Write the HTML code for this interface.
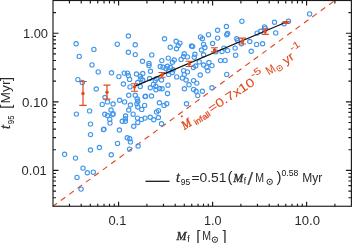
<!DOCTYPE html>
<html><head><meta charset="utf-8"><title>t95 vs Mf</title><style>html,body{margin:0;padding:0;background:#fff}svg{display:block;will-change:transform}</style></head><body>
<svg width="352" height="243" viewBox="0 0 352 243" font-family="Liberation Sans, sans-serif" font-size="12" fill="#2a2a2a" color="#2a2a2a">
<rect width="352" height="243" fill="#fff"/>
<defs><clipPath id="c"><rect x="53.0" y="0.5" width="298.4" height="205.75"/></clipPath></defs>
<g clip-path="url(#c)"><line x1="52.90" y1="206.27" x2="351.45" y2="-11.61" stroke="#e2491d" stroke-width="1.15" stroke-dasharray="5.6 4.78" stroke-dashoffset="0.6"/></g>
<g fill="none" stroke="#4096ea" stroke-width="1.12">
<circle cx="76.1" cy="43.75" r="2.15"/>
<circle cx="93.9" cy="49.4" r="2.15"/>
<circle cx="79.25" cy="56.4" r="2.15"/>
<circle cx="92.0" cy="64.9" r="2.15"/>
<circle cx="77.9" cy="79.6" r="2.15"/>
<circle cx="82.3" cy="82.5" r="2.15"/>
<circle cx="89.6" cy="110.9" r="2.15"/>
<circle cx="76.4" cy="114.1" r="2.15"/>
<circle cx="90.5" cy="124.1" r="2.15"/>
<circle cx="90.5" cy="134.6" r="2.15"/>
<circle cx="90.5" cy="150" r="2.15"/>
<circle cx="64.6" cy="154.3" r="2.15"/>
<circle cx="75.5" cy="158.1" r="2.15"/>
<circle cx="83" cy="168.1" r="2.15"/>
<circle cx="87.3" cy="172.75" r="2.15"/>
<circle cx="93.3" cy="172.2" r="2.15"/>
<circle cx="77" cy="177.4" r="2.15"/>
<circle cx="81.1" cy="189.1" r="2.15"/>
<circle cx="117.3" cy="44.2" r="2.15"/>
<circle cx="98.2" cy="71.9" r="2.15"/>
<circle cx="111.5" cy="72.8" r="2.15"/>
<circle cx="118.9" cy="76.6" r="2.15"/>
<circle cx="96.25" cy="89" r="2.15"/>
<circle cx="105" cy="97.5" r="2.15"/>
<circle cx="107.5" cy="101.9" r="2.15"/>
<circle cx="102.25" cy="104.4" r="2.15"/>
<circle cx="113.1" cy="104" r="2.15"/>
<circle cx="119.6" cy="100.25" r="2.15"/>
<circle cx="124.6" cy="101.9" r="2.15"/>
<circle cx="111" cy="110" r="2.15"/>
<circle cx="113.1" cy="113.8" r="2.15"/>
<circle cx="104.75" cy="114.3" r="2.15"/>
<circle cx="107.5" cy="115.5" r="2.15"/>
<circle cx="130" cy="86.9" r="2.15"/>
<circle cx="128.75" cy="95.25" r="2.15"/>
<circle cx="135.25" cy="95.25" r="2.15"/>
<circle cx="137.8" cy="101.25" r="2.15"/>
<circle cx="136.9" cy="103.75" r="2.15"/>
<circle cx="130.4" cy="105" r="2.15"/>
<circle cx="128.75" cy="110" r="2.15"/>
<circle cx="133.1" cy="114.2" r="2.15"/>
<circle cx="137.8" cy="107" r="2.15"/>
<circle cx="123.4" cy="84" r="2.15"/>
<circle cx="125.6" cy="116" r="2.15"/>
<circle cx="109.75" cy="119.4" r="2.15"/>
<circle cx="110" cy="123.1" r="2.15"/>
<circle cx="103.5" cy="129.6" r="2.15"/>
<circle cx="103.9" cy="129.3" r="2.15"/>
<circle cx="119.4" cy="130" r="2.15"/>
<circle cx="122.25" cy="121.25" r="2.15"/>
<circle cx="125.4" cy="118.75" r="2.15"/>
<circle cx="125.4" cy="121.25" r="2.15"/>
<circle cx="137.5" cy="118.1" r="2.15"/>
<circle cx="137.8" cy="122.5" r="2.15"/>
<circle cx="133.75" cy="126.25" r="2.15"/>
<circle cx="127.25" cy="137.75" r="2.15"/>
<circle cx="129.75" cy="138.75" r="2.15"/>
<circle cx="130.4" cy="141.9" r="2.15"/>
<circle cx="117.5" cy="143.4" r="2.15"/>
<circle cx="99.4" cy="147.5" r="2.15"/>
<circle cx="111.25" cy="154.75" r="2.15"/>
<circle cx="129.6" cy="149.1" r="2.15"/>
<circle cx="138.1" cy="146" r="2.15"/>
<circle cx="128.4" cy="36" r="2.15"/>
<circle cx="135.25" cy="44.75" r="2.15"/>
<circle cx="128.4" cy="52.25" r="2.15"/>
<circle cx="135.25" cy="54.6" r="2.15"/>
<circle cx="151.75" cy="54.9" r="2.15"/>
<circle cx="164.5" cy="38.75" r="2.15"/>
<circle cx="142.5" cy="61.25" r="2.15"/>
<circle cx="149" cy="63.5" r="2.15"/>
<circle cx="149" cy="65.6" r="2.15"/>
<circle cx="161.8" cy="60.6" r="2.15"/>
<circle cx="160.25" cy="66.5" r="2.15"/>
<circle cx="163" cy="67.2" r="2.15"/>
<circle cx="150.5" cy="71.25" r="2.15"/>
<circle cx="124.25" cy="73.1" r="2.15"/>
<circle cx="127.5" cy="73.1" r="2.15"/>
<circle cx="128.4" cy="75.6" r="2.15"/>
<circle cx="129.6" cy="79.4" r="2.15"/>
<circle cx="136.5" cy="74" r="2.15"/>
<circle cx="142.75" cy="73.5" r="2.15"/>
<circle cx="140.25" cy="76.25" r="2.15"/>
<circle cx="140.9" cy="78.75" r="2.15"/>
<circle cx="142.75" cy="80" r="2.15"/>
<circle cx="137.75" cy="82.5" r="2.15"/>
<circle cx="149.6" cy="78.5" r="2.15"/>
<circle cx="155.25" cy="80.6" r="2.15"/>
<circle cx="156.5" cy="78.75" r="2.15"/>
<circle cx="153.4" cy="84.4" r="2.15"/>
<circle cx="161.5" cy="80" r="2.15"/>
<circle cx="140.25" cy="86.5" r="2.15"/>
<circle cx="150.25" cy="87.75" r="2.15"/>
<circle cx="155.9" cy="86.25" r="2.15"/>
<circle cx="155.9" cy="89.75" r="2.15"/>
<circle cx="159.6" cy="88.5" r="2.15"/>
<circle cx="162.1" cy="88.75" r="2.15"/>
<circle cx="168" cy="85.2" r="2.15"/>
<circle cx="167.5" cy="93.5" r="2.15"/>
<circle cx="145.5" cy="96.25" r="2.15"/>
<circle cx="145.1" cy="96.6" r="2.15"/>
<circle cx="151.5" cy="96" r="2.15"/>
<circle cx="159.4" cy="102.75" r="2.15"/>
<circle cx="166.75" cy="103.75" r="2.15"/>
<circle cx="164" cy="105.4" r="2.15"/>
<circle cx="144.6" cy="105.4" r="2.15"/>
<circle cx="141.75" cy="109.4" r="2.15"/>
<circle cx="156.5" cy="111.9" r="2.15"/>
<circle cx="158.4" cy="110.6" r="2.15"/>
<circle cx="184.4" cy="88.75" r="2.15"/>
<circle cx="141.5" cy="119.4" r="2.15"/>
<circle cx="145" cy="118.1" r="2.15"/>
<circle cx="150.25" cy="117.25" r="2.15"/>
<circle cx="153.75" cy="119.75" r="2.15"/>
<circle cx="158.4" cy="117.5" r="2.15"/>
<circle cx="161.5" cy="123.75" r="2.15"/>
<circle cx="170.25" cy="47.25" r="2.15"/>
<circle cx="176.1" cy="41.25" r="2.15"/>
<circle cx="179.9" cy="43.1" r="2.15"/>
<circle cx="178.25" cy="45.6" r="2.15"/>
<circle cx="176.5" cy="48.75" r="2.15"/>
<circle cx="191.5" cy="46" r="2.15"/>
<circle cx="192.6" cy="46.5" r="2.15"/>
<circle cx="200.5" cy="36.9" r="2.15"/>
<circle cx="202.4" cy="38.75" r="2.15"/>
<circle cx="203.6" cy="44.4" r="2.15"/>
<circle cx="204.9" cy="47.5" r="2.15"/>
<circle cx="201.5" cy="50" r="2.15"/>
<circle cx="184.25" cy="53.75" r="2.15"/>
<circle cx="194.9" cy="54.3" r="2.15"/>
<circle cx="203.6" cy="54.75" r="2.15"/>
<circle cx="208.5" cy="34.7" r="2.15"/>
<circle cx="168.25" cy="58.1" r="2.15"/>
<circle cx="174.25" cy="60" r="2.15"/>
<circle cx="172.4" cy="62.25" r="2.15"/>
<circle cx="181.1" cy="59.4" r="2.15"/>
<circle cx="183.6" cy="56.5" r="2.15"/>
<circle cx="187.4" cy="56.9" r="2.15"/>
<circle cx="194.25" cy="57.2" r="2.15"/>
<circle cx="199.25" cy="61.9" r="2.15"/>
<circle cx="203.6" cy="65" r="2.15"/>
<circle cx="195.75" cy="66" r="2.15"/>
<circle cx="193.4" cy="67.5" r="2.15"/>
<circle cx="200.25" cy="75" r="2.15"/>
<circle cx="167.4" cy="66.25" r="2.15"/>
<circle cx="166.1" cy="68.75" r="2.15"/>
<circle cx="170.5" cy="67.5" r="2.15"/>
<circle cx="173" cy="69.75" r="2.15"/>
<circle cx="168.6" cy="71" r="2.15"/>
<circle cx="172.4" cy="72.5" r="2.15"/>
<circle cx="168.6" cy="74.4" r="2.15"/>
<circle cx="183.6" cy="70.6" r="2.15"/>
<circle cx="187.4" cy="71.9" r="2.15"/>
<circle cx="184.25" cy="74.4" r="2.15"/>
<circle cx="176.75" cy="76.9" r="2.15"/>
<circle cx="182.4" cy="78.1" r="2.15"/>
<circle cx="186.1" cy="80" r="2.15"/>
<circle cx="193.6" cy="80.6" r="2.15"/>
<circle cx="196.75" cy="83.1" r="2.15"/>
<circle cx="189" cy="84.8" r="2.15"/>
<circle cx="193.6" cy="89.4" r="2.15"/>
<circle cx="196.1" cy="91.25" r="2.15"/>
<circle cx="197.75" cy="95.6" r="2.15"/>
<circle cx="202.4" cy="91.25" r="2.15"/>
<circle cx="212" cy="87.75" r="2.15"/>
<circle cx="186.5" cy="103.75" r="2.15"/>
<circle cx="217.6" cy="30.25" r="2.15"/>
<circle cx="226.4" cy="26.5" r="2.15"/>
<circle cx="227.6" cy="33.5" r="2.15"/>
<circle cx="226.75" cy="34.75" r="2.15"/>
<circle cx="217.6" cy="38.1" r="2.15"/>
<circle cx="212.6" cy="43.5" r="2.15"/>
<circle cx="236.75" cy="38.75" r="2.15"/>
<circle cx="237.6" cy="40.6" r="2.15"/>
<circle cx="249.8" cy="41.5" r="2.15"/>
<circle cx="223.9" cy="48.1" r="2.15"/>
<circle cx="235.1" cy="48.1" r="2.15"/>
<circle cx="227.6" cy="50.6" r="2.15"/>
<circle cx="222" cy="51.5" r="2.15"/>
<circle cx="215.75" cy="51.9" r="2.15"/>
<circle cx="251.2" cy="51.25" r="2.15"/>
<circle cx="235.6" cy="55.2" r="2.15"/>
<circle cx="241.4" cy="43.75" r="2.15"/>
<circle cx="220.5" cy="60.6" r="2.15"/>
<circle cx="225.1" cy="60.4" r="2.15"/>
<circle cx="206.8" cy="67.2" r="2.15"/>
<circle cx="208.9" cy="62.5" r="2.15"/>
<circle cx="212" cy="65.6" r="2.15"/>
<circle cx="207.8" cy="70.8" r="2.15"/>
<circle cx="226.75" cy="74.4" r="2.15"/>
<circle cx="274.5" cy="22.25" r="2.15"/>
<circle cx="288.5" cy="21.25" r="2.15"/>
<circle cx="284.1" cy="23.75" r="2.15"/>
<circle cx="264.5" cy="26.9" r="2.15"/>
<circle cx="260.75" cy="31.25" r="2.15"/>
<circle cx="257.1" cy="33.1" r="2.15"/>
<circle cx="275.75" cy="32.9" r="2.15"/>
<circle cx="256.6" cy="44.4" r="2.15"/>
<circle cx="262.6" cy="43.75" r="2.15"/>
<circle cx="309.6" cy="13.9" r="2.15"/>
<circle cx="241.9" cy="21.2" r="2.15"/>
<circle cx="265.2" cy="28.4" r="2.15"/>
<circle cx="137.3" cy="99.0" r="2.15"/>
<circle cx="112.7" cy="114.6" r="2.15"/>
</g>
<line x1="134.5" y1="86.32" x2="286.5" y2="21.98" stroke="#111" stroke-width="1.25"/>
<g stroke="#e2491d" stroke-width="1.2" fill="#e2491d">
<path d="M83.0 81.5V105.3M79.25 81.5H86.75M79.25 105.3H86.75" fill="none"/>
<circle cx="83.0" cy="93.5" r="1.7" stroke="none"/>
<path d="M107.0 85.1V99.2M103.5 85.1H110.5M103.5 99.2H110.5" fill="none"/>
<circle cx="107.0" cy="92.2" r="1.7" stroke="none"/>
<path d="M134.5 83.75V91.25M130.9 83.75H138.1M130.9 91.25H138.1" fill="none"/>
<circle cx="134.5" cy="86.9" r="1.7" stroke="none"/>
<path d="M162 72.5V77.25M158.5 72.5H165.5M158.5 77.25H165.5" fill="none"/>
<circle cx="162" cy="74.9" r="1.7" stroke="none"/>
<path d="M189.25 61.25V66.5M185.65 61.25H192.85M185.65 66.5H192.85" fill="none"/>
<circle cx="189.25" cy="64" r="1.7" stroke="none"/>
<path d="M214.5 47.75V51.9M211.0 47.75H218.0M211.0 51.9H218.0" fill="none"/>
<circle cx="214.5" cy="50" r="1.7" stroke="none"/>
<path d="M242.3 38.2V44.0M238.55 38.2H246.05M238.55 44.0H246.05" fill="none"/>
<circle cx="242.3" cy="41.2" r="1.7" stroke="none"/>
<path d="M265.3 28.75V34.4M261.8 28.75H268.8M261.8 34.4H268.8" fill="none"/>
<circle cx="265.3" cy="31.5" r="1.7" stroke="none"/>
<path d="M286.5 21.6V23.4M283.3 21.6H289.7M283.3 23.4H289.7" fill="none"/>
<circle cx="286.5" cy="22.5" r="1.7" stroke="none"/>
</g>
<g stroke="#1a1a1a" stroke-width="1.15" fill="none">
<rect x="53.0" y="0.5" width="298.4" height="205.75"/>
<path d="M69.45 206.25v-2.5M69.45 0.5v2.9M81.19 206.25v-2.5M81.19 0.5v2.9M90.30 206.25v-2.5M90.30 0.5v2.9M97.75 206.25v-2.5M97.75 0.5v2.9M104.04 206.25v-2.5M104.04 0.5v2.9M109.49 206.25v-2.5M109.49 0.5v2.9M114.30 206.25v-2.5M114.30 0.5v2.9M118.60 206.25v-4.5M118.60 0.5v4.9M146.90 206.25v-2.5M146.90 0.5v2.9M163.45 206.25v-2.5M163.45 0.5v2.9M175.19 206.25v-2.5M175.19 0.5v2.9M184.30 206.25v-2.5M184.30 0.5v2.9M191.75 206.25v-2.5M191.75 0.5v2.9M198.04 206.25v-2.5M198.04 0.5v2.9M203.49 206.25v-2.5M203.49 0.5v2.9M208.30 206.25v-2.5M208.30 0.5v2.9M212.60 206.25v-4.5M212.60 0.5v4.9M240.90 206.25v-2.5M240.90 0.5v2.9M257.45 206.25v-2.5M257.45 0.5v2.9M269.19 206.25v-2.5M269.19 0.5v2.9M278.30 206.25v-2.5M278.30 0.5v2.9M285.75 206.25v-2.5M285.75 0.5v2.9M292.04 206.25v-2.5M292.04 0.5v2.9M297.49 206.25v-2.5M297.49 0.5v2.9M302.30 206.25v-2.5M302.30 0.5v2.9M306.60 206.25v-4.5M306.60 0.5v4.9M334.90 206.25v-2.5M334.90 0.5v2.9M53.0 197.70h3M351.4 197.70h-3M53.0 191.05h3M351.4 191.05h-3M53.0 185.62h3M351.4 185.62h-3M53.0 181.03h3M351.4 181.03h-3M53.0 177.05h3M351.4 177.05h-3M53.0 173.54h3M351.4 173.54h-3M53.0 170.40h5.5M351.4 170.40h-5.5M53.0 149.75h3M351.4 149.75h-3M53.0 137.67h3M351.4 137.67h-3M53.0 129.10h3M351.4 129.10h-3M53.0 122.45h3M351.4 122.45h-3M53.0 117.02h3M351.4 117.02h-3M53.0 112.43h3M351.4 112.43h-3M53.0 108.45h3M351.4 108.45h-3M53.0 104.94h3M351.4 104.94h-3M53.0 101.80h5.5M351.4 101.80h-5.5M53.0 81.15h3M351.4 81.15h-3M53.0 69.07h3M351.4 69.07h-3M53.0 60.50h3M351.4 60.50h-3M53.0 53.85h3M351.4 53.85h-3M53.0 48.42h3M351.4 48.42h-3M53.0 43.83h3M351.4 43.83h-3M53.0 39.85h3M351.4 39.85h-3M53.0 36.34h3M351.4 36.34h-3M53.0 33.20h5.5M351.4 33.20h-5.5M53.0 12.55h3M351.4 12.55h-3"/>
</g>
<text x="108.4" y="224.8" text-anchor="start" textLength="18" lengthAdjust="spacingAndGlyphs">0.1</text>
<text x="204.0" y="224.8" text-anchor="start" textLength="17.5" lengthAdjust="spacingAndGlyphs">1.0</text>
<text x="294.5" y="224.8" text-anchor="start" textLength="25.5" lengthAdjust="spacingAndGlyphs">10.0</text>
<text x="23.0" y="38.0" text-anchor="start" textLength="25" lengthAdjust="spacingAndGlyphs">1.00</text>
<text x="21.9" y="106.6" text-anchor="start" textLength="26" lengthAdjust="spacingAndGlyphs">0.10</text>
<text x="21.6" y="175.3" text-anchor="start" textLength="25.2" lengthAdjust="spacingAndGlyphs">0.01</text>
<text x="176.6" y="239.8" font-family="Liberation Serif, serif" font-style="italic" font-size="13.4" stroke="currentColor" stroke-width="0.4" textLength="10" lengthAdjust="spacingAndGlyphs">M</text>
<text x="187.2" y="242" font-size="8.5" fill="#111">f</text>
<text x="196.2" y="240.8" font-size="15">[</text>
<text x="202.3" y="239.8" textLength="8.8" lengthAdjust="spacingAndGlyphs">M</text>
<circle cx="214.9" cy="239.7" r="2.7" fill="none" stroke="#1a1a1a" stroke-width="0.9"/><circle cx="214.9" cy="239.7" r="0.8"/>
<text x="222.6" y="240.8" font-size="15">]</text>
<g transform="translate(10.3,130) rotate(-90)">
<text x="0.9" y="0" font-family="Liberation Serif, serif" font-style="italic" font-size="14" stroke="currentColor" stroke-width="0.35">t</text>
<text x="5.8" y="3.6" font-size="8.5" fill="#111" textLength="8.8" lengthAdjust="spacingAndGlyphs">95</text>
<text x="21.3" y="1" font-size="15">[</text>
<text x="26.6" y="0" textLength="23" lengthAdjust="spacingAndGlyphs">Myr</text>
<text x="49" y="1" font-size="15">]</text>
</g>
<line x1="145.5" y1="181.3" x2="169.5" y2="181.3" stroke="#111" stroke-width="1.25"/>
<text x="176" y="181.5" font-family="Liberation Serif, serif" font-style="italic" font-size="14" stroke="currentColor" stroke-width="0.3">t</text>
<text x="180.8" y="184.8" font-size="8.5" fill="#111" textLength="9.4" lengthAdjust="spacingAndGlyphs">95</text>
<text x="191.5" y="181.5" textLength="35" lengthAdjust="spacingAndGlyphs">=0.51</text>
<text x="227.6" y="181.9" font-size="15">(</text>
<text x="233.3" y="181.5" font-family="Liberation Serif, serif" font-style="italic" font-size="13.4" stroke="currentColor" stroke-width="0.4" textLength="10" lengthAdjust="spacingAndGlyphs">M</text>
<text x="243.8" y="184" font-size="8.5" fill="#111">f</text>
<text x="247.2" y="184.6" font-size="18.5" fill="#4a4a4a" textLength="6" lengthAdjust="spacingAndGlyphs">/</text>
<text x="255.2" y="181.5" textLength="8.8" lengthAdjust="spacingAndGlyphs">M</text>
<circle cx="269.7" cy="181.8" r="2.7" fill="none" stroke="#1a1a1a" stroke-width="0.9"/><circle cx="269.7" cy="181.8" r="0.8"/>
<text x="276.4" y="181.9" font-size="15">)</text>
<text x="281.5" y="175.6" font-size="8.6" fill="#111" textLength="16.8" lengthAdjust="spacingAndGlyphs">0.58</text>
<text x="302.2" y="181.5" textLength="20" lengthAdjust="spacingAndGlyphs">Myr</text>
<g transform="translate(184.2,130.6) rotate(-33)" fill="#e2491d" color="#e2491d" stroke="#e2491d" stroke-width="0.08">
<text x="0.6" y="-0.2" font-family="Liberation Serif, serif" font-style="italic" font-size="12.5" stroke="currentColor" stroke-width="0.4" textLength="9.6" lengthAdjust="spacingAndGlyphs">M</text>
<circle cx="5.8" cy="-13.2" r="0.95"/>
<text x="12.9" y="2.1" font-size="8" stroke="currentColor" stroke-width="0.25" textLength="18" lengthAdjust="spacingAndGlyphs">infall</text>
<text x="32.2" y="0" textLength="53" lengthAdjust="spacingAndGlyphs">=0.7x10</text>
<text x="86" y="-6.5" font-size="9.5" textLength="11" lengthAdjust="spacingAndGlyphs">-5</text>
<text x="101" y="0" textLength="8.8" lengthAdjust="spacingAndGlyphs">M</text>
<circle cx="114" cy="-0.3" r="2.7" fill="none" stroke="#e2491d" stroke-width="0.9"/><circle cx="114" cy="-0.3" r="0.8"/>
<text x="121" y="0" textLength="11" lengthAdjust="spacingAndGlyphs">yr</text>
<text x="133.5" y="-7.5" font-size="9.5" textLength="10.5" lengthAdjust="spacingAndGlyphs">-1</text>
</g>
</svg>
</body></html>
